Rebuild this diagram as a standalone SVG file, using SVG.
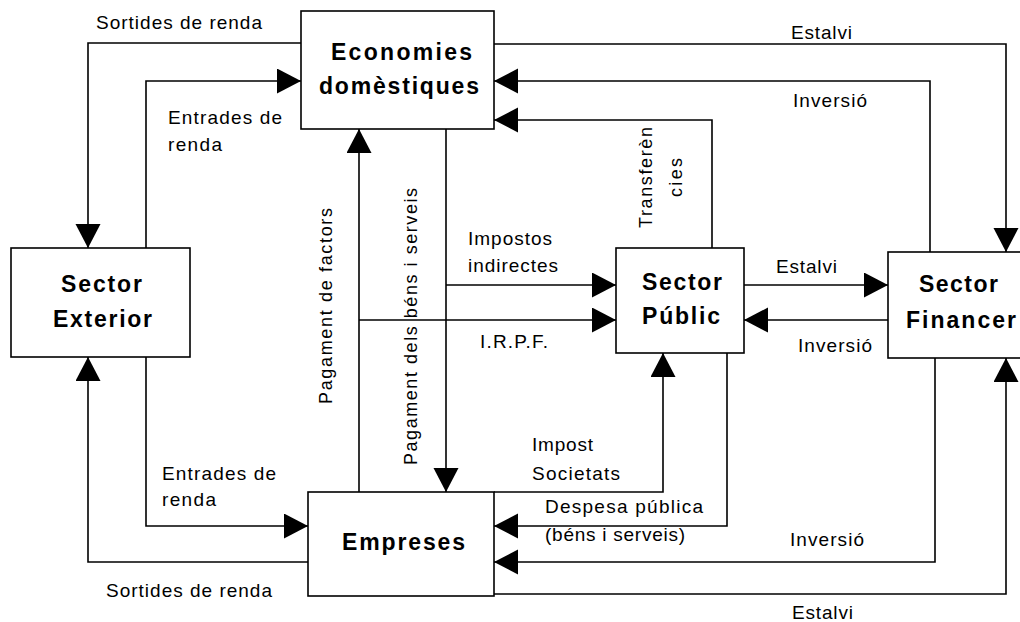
<svg xmlns="http://www.w3.org/2000/svg" width="1020" height="622" viewBox="0 0 1020 622">
<style>
.box{fill:#fff;stroke:#000;stroke-width:1.6}
.c{fill:none;stroke:#000;stroke-width:1.6}
.n{font-family:"Liberation Sans",Arial,sans-serif;font-weight:bold;font-size:23px;fill:#000}
.l{font-family:"Liberation Sans",Arial,sans-serif;font-size:19px;fill:#000}
.r{font-family:"Liberation Sans",Arial,sans-serif;font-size:18px;fill:#000}
</style>
<defs>
<marker id="ah" markerUnits="userSpaceOnUse" markerWidth="25" markerHeight="26" refX="24" refY="12.5" orient="auto" viewBox="0 0 25 26">
<path d="M0,0 L24,12.5 L0,25 z" fill="#000"/>
</marker>
</defs>
<rect width="1020" height="622" fill="#fff"/>
<g id="connectors">
<path class="c" d="M301,43 H88 V248" marker-end="url(#ah)"/>
<path class="c" d="M146,248 V81 H301" marker-end="url(#ah)"/>
<path class="c" d="M494,44 H1006 V252" marker-end="url(#ah)"/>
<path class="c" d="M930,252 V81 H494" marker-end="url(#ah)"/>
<path class="c" d="M712,248 V120 H494" marker-end="url(#ah)"/>
<path class="c" d="M359,492 V129" marker-end="url(#ah)"/>
<path class="c" d="M446,129 V492" marker-end="url(#ah)"/>
<path class="c" d="M446,285 H616" marker-end="url(#ah)"/>
<path class="c" d="M359,320 H616" marker-end="url(#ah)"/>
<path class="c" d="M744,285 H888" marker-end="url(#ah)"/>
<path class="c" d="M888,320 H744" marker-end="url(#ah)"/>
<path class="c" d="M146,357 V526 H308" marker-end="url(#ah)"/>
<path class="c" d="M308,562 H88 V357" marker-end="url(#ah)"/>
<path class="c" d="M494,492 H663 V353" marker-end="url(#ah)"/>
<path class="c" d="M727,353 V526 H494" marker-end="url(#ah)"/>
<path class="c" d="M935,358 V562 H494" marker-end="url(#ah)"/>
<path class="c" d="M494,594 H1006 V358" marker-end="url(#ah)"/>
</g>
<g id="economies">
<rect class="box" x="301" y="11" width="193" height="118"/>
<text class="n" x="331" y="60" textLength="141" lengthAdjust="spacing">Economies</text>
<text class="n" x="319" y="94" textLength="160" lengthAdjust="spacing">domèstiques</text>
</g>
<g id="exterior">
<rect class="box" x="11" y="248" width="179" height="109"/>
<text class="n" x="61" y="292" textLength="81" lengthAdjust="spacing">Sector</text>
<text class="n" x="53" y="327" textLength="99" lengthAdjust="spacing">Exterior</text>
</g>
<g id="public">
<rect class="box" x="616" y="248" width="128" height="105"/>
<text class="n" x="642" y="290" textLength="80" lengthAdjust="spacing">Sector</text>
<text class="n" x="642" y="324" textLength="78" lengthAdjust="spacing">Públic</text>
</g>
<g id="financer">
<rect class="box" x="888" y="252" width="140" height="106"/>
<text class="n" x="919" y="292" textLength="79" lengthAdjust="spacing">Sector</text>
<text class="n" x="906" y="328" textLength="110" lengthAdjust="spacing">Financer</text>
</g>
<g id="empreses">
<rect class="box" x="308" y="492" width="186" height="104"/>
<text class="n" x="342" y="550" textLength="123" lengthAdjust="spacing">Empreses</text>
</g>
<g id="labels">
<text class="l" x="96" y="29" textLength="166" lengthAdjust="spacing">Sortides de renda</text>
<text class="l" x="168" y="124" textLength="114" lengthAdjust="spacing">Entrades de</text>
<text class="l" x="168" y="151" textLength="54" lengthAdjust="spacing">renda</text>
<text class="l" x="791" y="39" textLength="61" lengthAdjust="spacing">Estalvi</text>
<text class="l" x="793" y="107" textLength="74" lengthAdjust="spacing">Inversió</text>
<text class="l" x="468" y="245" textLength="84" lengthAdjust="spacing">Impostos</text>
<text class="l" x="468" y="272" textLength="90" lengthAdjust="spacing">indirectes</text>
<text class="l" x="480" y="348" textLength="68" lengthAdjust="spacing">I.R.P.F.</text>
<text class="l" x="776" y="273" textLength="61" lengthAdjust="spacing">Estalvi</text>
<text class="l" x="798" y="352" textLength="74" lengthAdjust="spacing">Inversió</text>
<text class="l" x="532" y="451" textLength="61" lengthAdjust="spacing">Impost</text>
<text class="l" x="532" y="480" textLength="88" lengthAdjust="spacing">Societats</text>
<text class="l" x="545" y="513" textLength="158" lengthAdjust="spacing">Despesa pública</text>
<text class="l" x="545" y="541" textLength="140" lengthAdjust="spacing">(béns i serveis)</text>
<text class="l" x="790" y="546" textLength="74" lengthAdjust="spacing">Inversió</text>
<text class="l" x="792" y="619" textLength="61" lengthAdjust="spacing">Estalvi</text>
<text class="l" x="162" y="480" textLength="114" lengthAdjust="spacing">Entrades de</text>
<text class="l" x="162" y="506" textLength="54" lengthAdjust="spacing">renda</text>
<text class="l" x="106" y="597" textLength="166" lengthAdjust="spacing">Sortides de renda</text>
<text class="r" transform="translate(332,404) rotate(-90)" textLength="196" lengthAdjust="spacing">Pagament de factors</text>
<text class="r" transform="translate(417,465) rotate(-90)" textLength="277" lengthAdjust="spacing">Pagament dels béns i serveis</text>
<text class="r" transform="translate(652,228) rotate(-90)" textLength="101" lengthAdjust="spacing">Transferèn</text>
<text class="r" transform="translate(682,197) rotate(-90)" textLength="39" lengthAdjust="spacing">cies</text>
</g>
</svg>
